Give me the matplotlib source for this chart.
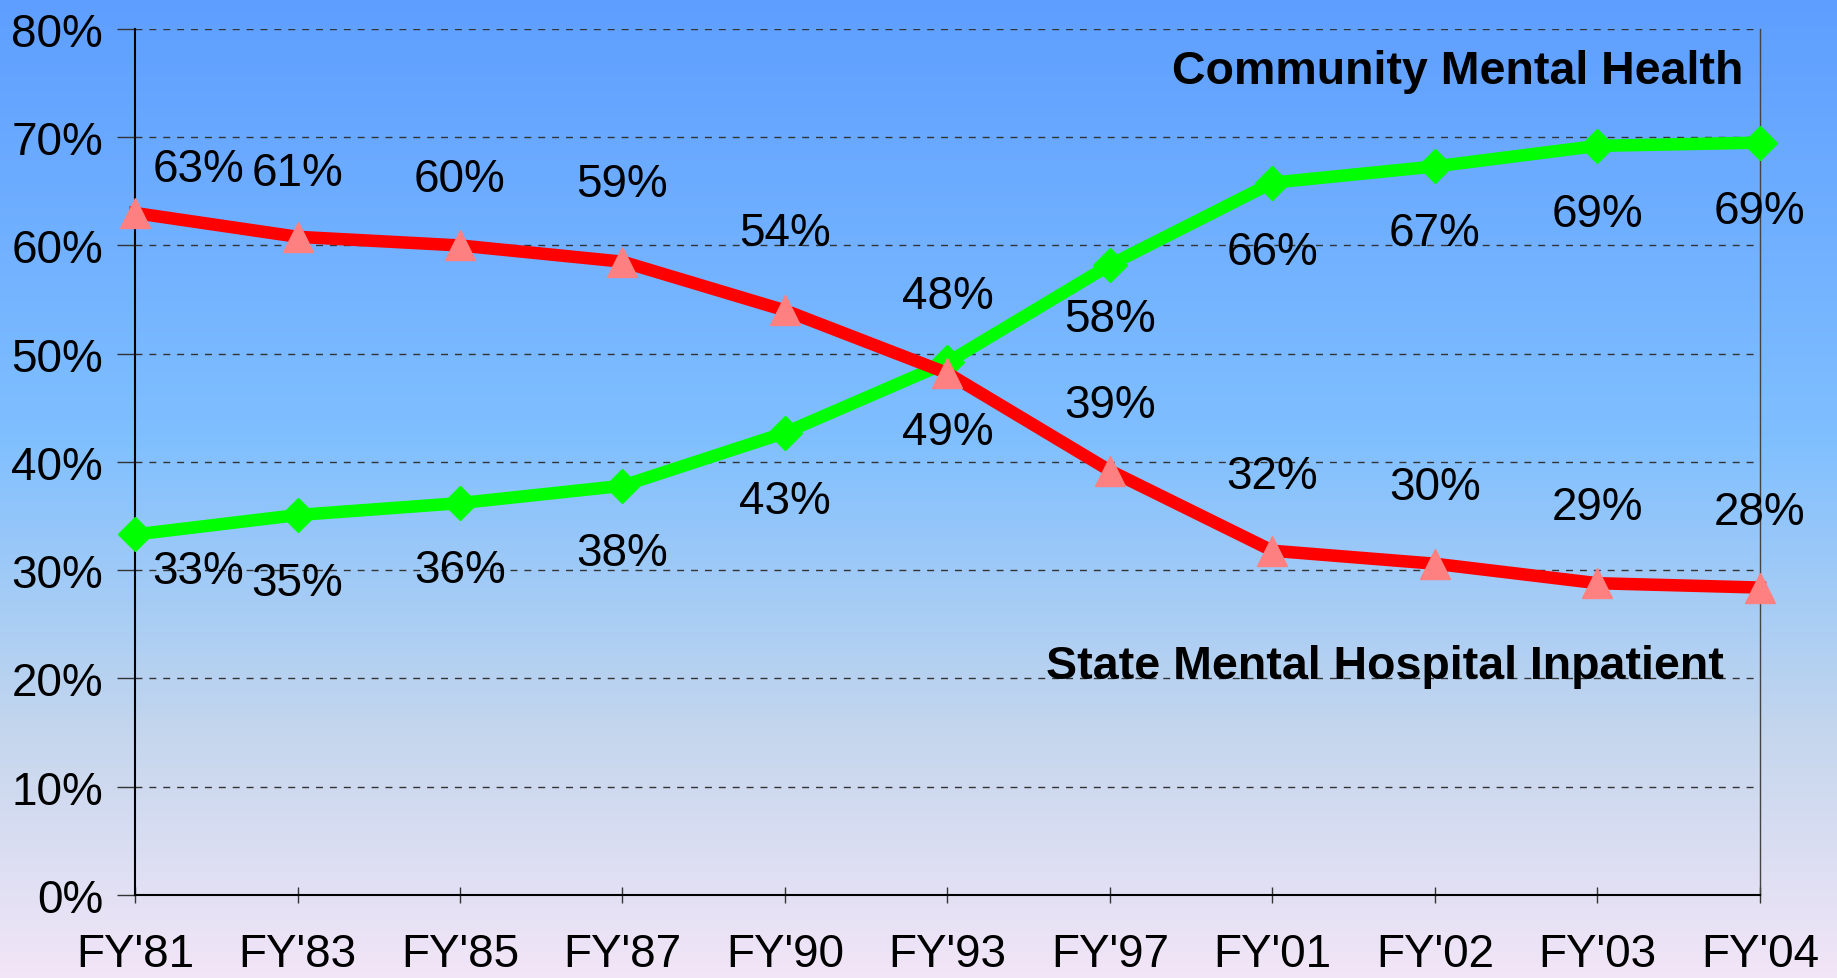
import numpy as np
import matplotlib.pyplot as plt
from matplotlib.colors import LinearSegmentedColormap

years = ["FY'81", "FY'83", "FY'85", "FY'87", "FY'90", "FY'93",
         "FY'97", "FY'01", "FY'02", "FY'03", "FY'04"]
hospital = [63.0, 60.8, 60.0, 58.5, 54.0, 48.2, 39.2, 31.8, 30.6, 28.8, 28.4]
community = [33.3, 35.1, 36.2, 37.8, 42.7, 49.2, 58.2, 65.8, 67.3, 69.2, 69.5]
hospital_labels = ["63%", "61%", "60%", "59%", "54%", "48%", "39%", "32%", "30%", "29%", "28%"]
community_labels = ["33%", "35%", "36%", "38%", "43%", "49%", "58%", "66%", "67%", "69%", "69%"]

# label placement in pixels (above red, below green)
hosp_dy = [44, 64, 66, 78, 77, 77, 66, 75, 77, 76, 76]
comm_dy = [37, 68, 67, 67, 68, 70, 54, 69, 67, 68, 68]

plt.rcParams['font.family'] = ['Liberation Sans', 'DejaVu Sans']

fig = plt.figure(figsize=(18.37, 9.79), dpi=100)

# background gradient
bg = fig.add_axes([0, 0, 1, 1], zorder=-10)
cmap = LinearSegmentedColormap.from_list('bg', [
    (0.0, (0.37, 0.62, 1.0)),
    (0.45, (0.50, 0.75, 1.0)),
    (0.75, (0.77, 0.84, 0.93)),
    (1.0, (0.95, 0.90, 0.97))])
bg.imshow(np.linspace(0, 1, 256)[:, None], aspect='auto', cmap=cmap,
          extent=[0, 1, 0, 1])
bg.axis('off')

ax = fig.add_axes([0.0735, 0.0848, 0.8845, 0.8846])
ax.patch.set_alpha(0)
x = np.arange(len(years))

ax.plot(x, community, color='#00ff00', lw=9, marker='D', ms=17,
        mfc='#00ff00', mec='#00ff00', clip_on=False, zorder=3)
ax.plot(x, hospital, color='#ff0000', lw=9, marker='^', ms=22,
        mfc='#ff8080', mec='#ff8080', clip_on=False, zorder=4)

fs = 33
for i in range(len(x)):
    dx = 63 if i == 0 else 0
    ax.annotate(hospital_labels[i], (x[i], hospital[i]), xytext=(dx, hosp_dy[i]),
                textcoords='offset pixels', ha='center', va='center',
                fontsize=fs, annotation_clip=False, zorder=5)
    ax.annotate(community_labels[i], (x[i], community[i]), xytext=(dx, -comm_dy[i]),
                textcoords='offset pixels', ha='center', va='center',
                fontsize=fs, annotation_clip=False, zorder=5)

ax.text(0.990, 0.951, 'Community Mental Health', transform=ax.transAxes,
        ha='right', va='center', fontsize=33.5, fontweight='bold')
ax.text(0.978, 0.264, 'State Mental Hospital Inpatient', transform=ax.transAxes,
        ha='right', va='center', fontsize=33.5, fontweight='bold')

ax.set_xlim(0, len(years) - 1)
ax.set_ylim(0, 80)
ax.set_yticks(np.arange(0, 81, 10))
ax.set_yticklabels([f'{v}%' for v in range(0, 81, 10)])
ax.set_xticks(x)
ax.set_xticklabels(years)
ax.tick_params(axis='y', labelsize=fs, length=13, width=1, pad=10, color='#333333')
ax.tick_params(axis='x', labelsize=fs, length=12, width=1, direction='inout',
               pad=21, color='#333333')
ax.grid(axis='y', linestyle=(0, (5, 5)), color='#333333', lw=1)

ax.spines['top'].set_visible(False)
ax.spines['right'].set_color('#444444')
ax.spines['right'].set_linewidth(1)
ax.spines['left'].set_color('black')
ax.spines['bottom'].set_color('black')
ax.spines['left'].set_linewidth(1.5)
ax.spines['bottom'].set_linewidth(1.5)

fig.savefig('out.png', dpi=100)
